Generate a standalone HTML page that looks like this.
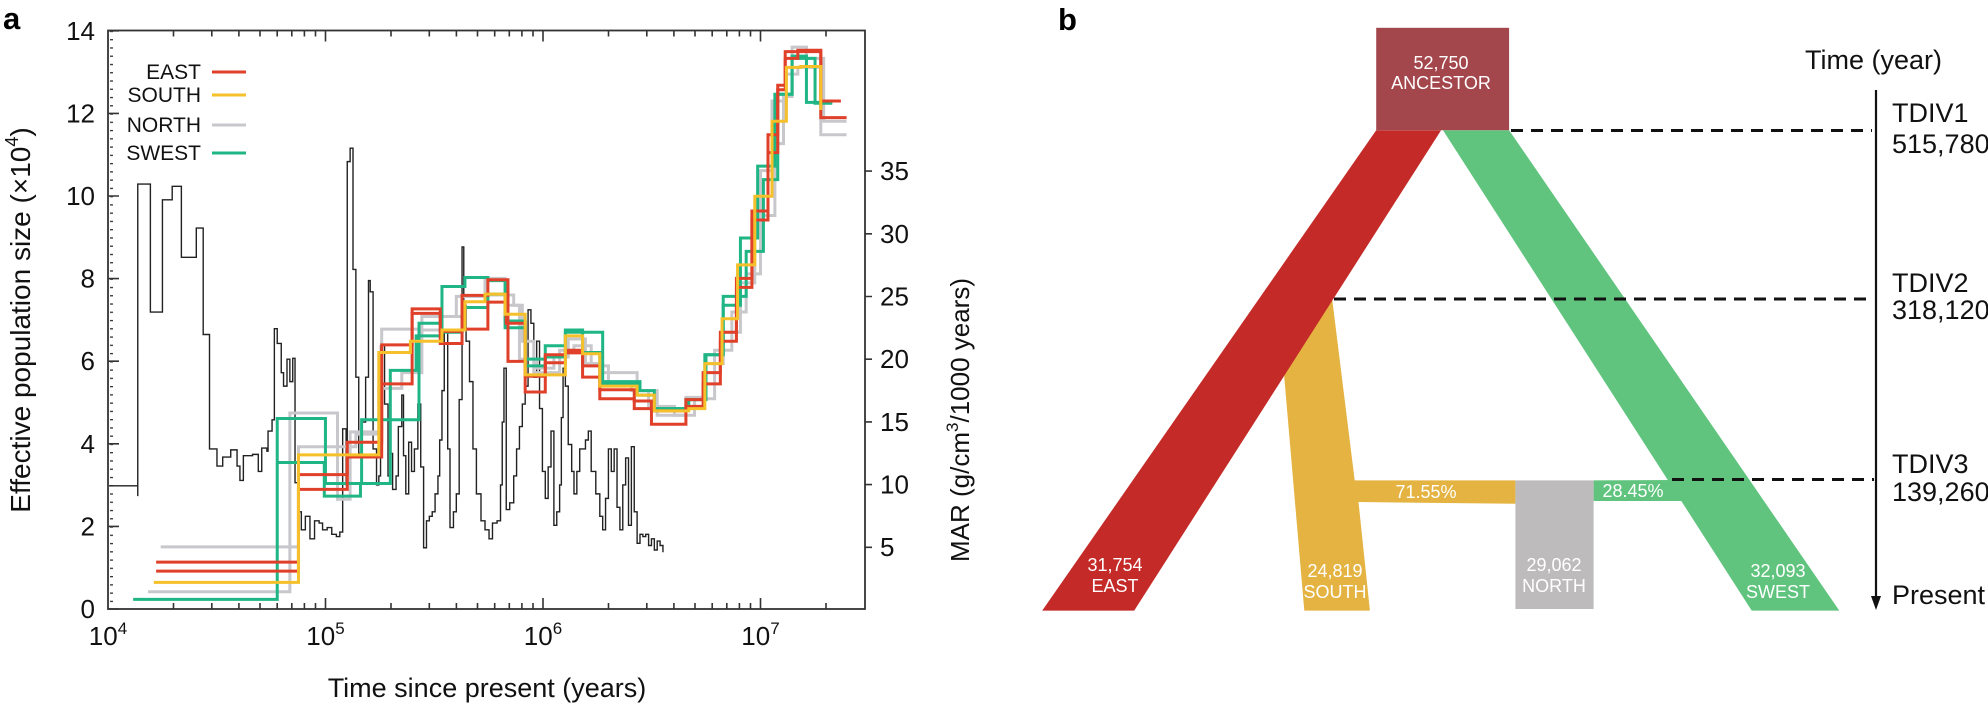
<!DOCTYPE html>
<html><head><meta charset="utf-8"><style>
html,body{margin:0;padding:0;background:#fff;}
svg{display:block;font-family:"Liberation Sans",sans-serif;}
</style></head><body>
<svg width="1988" height="704" viewBox="0 0 1988 704" xmlns="http://www.w3.org/2000/svg">
<defs>
<pattern id="lt" x="0" y="30.8" width="10" height="8.26" patternUnits="userSpaceOnUse">
<rect x="0" y="0" width="5" height="1.3" fill="#333"/>
</pattern>
</defs>
<!-- Panel a -->
<text x="3" y="29" font-size="31" font-weight="bold">a</text>
<rect x="108" y="30.5" width="757" height="578.5" fill="none" stroke="#333" stroke-width="1.8"/>
<rect x="108" y="30.8" width="5" height="578" fill="url(#lt)"/>
<g stroke="#333" stroke-width="1.6">
<path d="M108,609h11M108,526.4h11M108,443.8h11M108,361.2h11M108,278.6h11M108,196h11M108,113.4h11M108,30.8h11"/>
<path d="M865,547.3h7M865,484.6h7M865,421.9h7M865,359.2h7M865,296.5h7M865,233.8h7M865,171.1h7"/>
<path d="M325.5,609v-11M543,609v-11M760.5,609v-11M325.5,30.5v11M543,30.5v11M760.5,30.5v11"/>
<path d="M173.5,609v-6M211.8,609v-6M238.9,609v-6M260,609v-6M277.2,609v-6M291.8,609v-6M304.4,609v-6M315.5,609v-6M391,609v-6M429.3,609v-6M456.4,609v-6M477.5,609v-6M494.7,609v-6M509.3,609v-6M521.9,609v-6M533,609v-6M608.5,609v-6M646.8,609v-6M673.9,609v-6M695,609v-6M712.2,609v-6M726.8,609v-6M739.4,609v-6M750.5,609v-6M826,609v-6"/>
<path d="M173.5,30.5v6M211.8,30.5v6M238.9,30.5v6M260,30.5v6M277.2,30.5v6M291.8,30.5v6M304.4,30.5v6M315.5,30.5v6M391,30.5v6M429.3,30.5v6M456.4,30.5v6M477.5,30.5v6M494.7,30.5v6M509.3,30.5v6M521.9,30.5v6M533,30.5v6M608.5,30.5v6M646.8,30.5v6M673.9,30.5v6M695,30.5v6M712.2,30.5v6M726.8,30.5v6M739.4,30.5v6M750.5,30.5v6M826,30.5v6"/>
</g>
<g font-size="26" text-anchor="end" fill="#111">
<text x="95" y="618">0</text><text x="95" y="535.4">2</text><text x="95" y="452.8">4</text><text x="95" y="370.2">6</text><text x="95" y="287.6">8</text><text x="95" y="205">10</text><text x="95" y="122.4">12</text><text x="95" y="39.8">14</text>
</g>
<g font-size="26" fill="#111">
<text x="880" y="556">5</text><text x="880" y="493.6">10</text><text x="880" y="430.9">15</text><text x="880" y="368.2">20</text><text x="880" y="305.5">25</text><text x="880" y="242.8">30</text><text x="880" y="180.1">35</text>
</g>
<g font-size="26" fill="#111" text-anchor="middle">
<text x="108" y="645">10<tspan font-size="17" dy="-11">4</tspan></text>
<text x="325.5" y="645">10<tspan font-size="17" dy="-11">5</tspan></text>
<text x="543" y="645">10<tspan font-size="17" dy="-11">6</tspan></text>
<text x="760.5" y="645">10<tspan font-size="17" dy="-11">7</tspan></text>
<text x="487" y="697" font-size="27">Time since present (years)</text>
<text transform="translate(30,320) rotate(-90)" font-size="28">Effective population size (×10<tspan font-size="18" dy="-12">4</tspan><tspan dy="12">)</tspan></text>
<text transform="translate(969,420) rotate(-90)">MAR (g/cm<tspan font-size="17" dy="-11">3</tspan><tspan dy="11">/1000 years)</tspan></text>
</g>
<!-- legend -->
<g font-size="21" text-anchor="end" fill="#111">
<text x="201" y="79">EAST</text><text x="201" y="102">SOUTH</text><text x="201" y="132">NORTH</text><text x="201" y="160">SWEST</text>
</g>
<g stroke-width="3">
<line x1="212" y1="72" x2="246" y2="72" stroke="#e0402a"/>
<line x1="212" y1="95" x2="246" y2="95" stroke="#f5c02a"/>
<line x1="212" y1="125" x2="246" y2="125" stroke="#c8c8cc"/>
<line x1="212" y1="153" x2="246" y2="153" stroke="#1fb585"/>
</g>
<g transform="scale(0.57398,0.44898)" fill="none">
<path vector-effect="non-scaling-stroke" stroke="#222" stroke-width="1.4" d="M190,1082 H240 V1105 V410 H262 V695 H283 V445 H300 V415 H316 V573 H342 V508 H354 V745 H365 V1000 H378 V1038 H388 V1018 H402 V1002 H413 V1038 H418 V1070 H424 V1015 H440 V1012 H450 V1050 H456 V998 H465 V1005 H467 V960 H474 V935 H478 V732 H483 V765 H490 V830 H494 V860 H500 V800 H505 V850 H510 V798 H514 V1075 H520 V1140 H525 V1180 H532 V1150 H540 V1200 H548 V1160 H556 V1165 H562 V1180 H570 V1175 H578 V1190 H586 V1195 H592 V1185 H597 V955 H603 V1080 H605 V360 H610 V330 H615 V600 H620 V840 H625 V1010 H630 V940 H637 V840 H642 V625 H645 V650 H650 V1000 H656 V1080 H660 V1060 H663 V770 H670 V900 H676 V1060 H680 V1010 H684 V1090 H690 V1060 H694 V950 H700 V880 H703 V1015 H707 V1100 H712 V985 H717 V1050 H722 V1000 H728 V900 H733 V1040 H738 V1220 H743 V1160 H748 V1150 H753 V1140 H758 V1100 H763 V1060 H766 V980 H770 V870 H774 V740 H780 V1000 H784 V1175 H790 V1140 H795 V1100 H800 V890 H805 V550 H808 V680 H812 V760 H818 V850 H824 V1000 H830 V1100 H838 V1160 H845 V1180 H852 V1200 H858 V1165 H866 V1160 H872 V1080 H875 V940 H878 V820 H882 V1135 H888 V1120 H895 V1060 H900 V1000 H905 V950 H910 V900 H915 V860 H920 V690 H925 V720 H930 V840 H935 V760 H940 V910 H945 V1050 H950 V1110 H955 V1040 H960 V960 H965 V1170 H970 V1140 H975 V1080 H978 V930 H981 V820 H985 V860 H990 V990 H996 V1050 H1000 V1100 H1005 V1050 H1010 V1000 H1015 V1000 H1020 V980 H1025 V960 H1030 V1050 H1038 V1100 H1045 V1150 H1050 V1180 H1055 V1110 H1060 V1000 H1065 V1050 H1070 V1000 H1075 V1130 H1080 V1180 H1085 V1080 H1090 V1020 H1095 V1170 H1100 V995 H1105 V1140 H1110 V1210 H1115 V1190 H1120 V1195 H1125 V1190 H1130 V1215 H1135 V1200 H1140 V1225 H1145 V1205 H1150 V1215 H1155 V1230"/>
<g stroke-width="3">
<path vector-effect="non-scaling-stroke" stroke="#c8c8cc" d="M280,1218 H520 V995 H620 V967 H660 V865 H700 V830 H735 V735 H770 V705 H805 V660 H845 V620 H880 V680 H905 V800 H935 V820 H965 V795 H990 V755 H1020 V810 H1050 V830 H1110 V870 H1145 V925 H1195 V885 H1230 V810 H1260 V740 H1290 V630 H1315 V480 H1350 V320 H1365 V215 H1380 V105 H1405 V130 H1435 V270 H1475"/>
<path vector-effect="non-scaling-stroke" stroke="#c8c8cc" d="M258,1318 H505 V920 H588 V1112 H610 V962 H665 V733 H735 V705 H795 V660 H850 V657 H895 V680 H910 V760 H930 V830 H975 V780 H1000 V770 H1030 V815 H1060 V855 H1100 V870 H1130 V905 H1175 V925 H1210 V888 H1245 V780 H1275 V695 H1300 V610 H1325 V380 H1345 V225 H1370 V165 H1390 V150 H1430 V300 H1475"/>
<path vector-effect="non-scaling-stroke" stroke="#1fb585" d="M232,1335 H483 V932 H567 V1077 H630 V935 H680 V825 H725 V748 H770 V638 H810 V618 H850 V625 H880 V715 H915 V815 H950 V770 H985 V735 H1015 V785 H1045 V855 H1110 V880 H1140 V910 H1200 V890 H1228 V790 H1260 V680 H1290 V530 H1320 V370 H1350 V210 H1380 V125 H1405 V228 H1450"/>
<path vector-effect="non-scaling-stroke" stroke="#1fb585" d="M483,1030 H565 V1105 H628 V1077 H680 V935 H730 V720 H770 V740 H805 V685 H850 V655 H880 V730 H915 V800 H950 V795 H985 V740 H1050 V850 H1115 V870 H1140 V910 H1195 V890 H1230 V790 H1260 V660 H1300 V560 H1330 V400 H1355 V210 H1380 V130 H1420 V230 H1450"/>
<path vector-effect="non-scaling-stroke" stroke="#e0402a" d="M272,1252 H520 V1057 H605 V985 H665 V768 H718 V688 H767 V738 H805 V658 H850 V623 H885 V805 H915 V873 H950 V790 H985 V780 H1015 V840 H1045 V888 H1105 V910 H1135 V945 H1195 V905 H1225 V830 H1255 V740 H1283 V620 H1310 V470 H1338 V300 H1355 V190 H1368 V115 H1385 V115 H1430 V225 H1465"/>
<path vector-effect="non-scaling-stroke" stroke="#e0402a" d="M272,1272 H520 V1090 H605 V1018 H665 V855 H718 V698 H767 V765 H805 V733 H850 V673 H882 V720 H915 V838 H950 V808 H985 V786 H1015 V815 H1045 V868 H1105 V893 H1135 V915 H1195 V890 H1225 V855 H1255 V760 H1283 V640 H1310 V490 H1338 V340 H1355 V200 H1368 V130 H1390 V112 H1430 V262 H1475"/>
<path vector-effect="non-scaling-stroke" stroke="#f5c02a" d="M268,1297 H520 V1013 H660 V785 H715 V760 H770 V735 H810 V672 H845 V655 H880 V700 H915 V835 H985 V748 H1015 V788 H1045 V860 H1110 V880 H1140 V915 H1200 V910 H1228 V810 H1258 V710 H1285 V590 H1315 V437 H1345 V270 H1370 V150 H1395 V148 H1430 V245"/>
</g>
</g>
<!-- Panel b -->
<text x="1058" y="30" font-size="31" font-weight="bold">b</text>
<polygon points="1332.1,298.6 1354.7,480.4 1515.4,480.4 1515.4,503.8 1358.5,502 1369.9,610.6 1304.3,610.6 1283.5,368.2" fill="#e4b341"/>
<polygon points="1376.2,130.2 1441.1,130.2 1134.2,610.6 1042.2,610.6" fill="#c42a27"/>
<polygon points="1593.6,480.4 1675,480 1686,501 1593.6,501" fill="#60c47e"/>
<polygon points="1443,130.2 1509.1,130.2 1839.3,610.6 1751.7,610.6" fill="#60c47e"/>
<rect x="1515.4" y="480.4" width="78.2" height="128.6" fill="#bebbbc"/>
<rect x="1376.2" y="27.8" width="132.9" height="102.4" fill="#a4474d"/>
<g stroke="#111" stroke-width="3" stroke-dasharray="12,8">
<line x1="1511" y1="130.5" x2="1872" y2="130.5"/>
<line x1="1334" y1="299" x2="1872" y2="299"/>
<line x1="1672" y1="479.5" x2="1874" y2="479.5"/>
</g>
<line x1="1876" y1="90" x2="1876" y2="598" stroke="#111" stroke-width="2.2"/>
<polygon points="1871,596 1881,596 1876,610" fill="#111"/>
<g fill="#fff" font-size="18" text-anchor="middle" dominant-baseline="middle">
<text x="1441" y="64">52,750</text><text x="1441" y="84">ANCESTOR</text>
<text x="1115" y="566">31,754</text><text x="1115" y="587">EAST</text>
<text x="1335" y="572">24,819</text><text x="1335" y="593">SOUTH</text>
<text x="1554" y="566">29,062</text><text x="1554" y="587">NORTH</text>
<text x="1778" y="572">32,093</text><text x="1778" y="593">SWEST</text>
<text x="1426" y="493">71.55%</text><text x="1633" y="492">28.45%</text>
</g>
<g fill="#111" font-size="27" dominant-baseline="middle">
<text x="1805" y="62">Time (year)</text>
<text x="1892" y="115">TDIV1</text><text x="1892" y="146">515,780</text>
<text x="1892" y="285">TDIV2</text><text x="1892" y="312">318,120</text>
<text x="1892" y="466">TDIV3</text><text x="1892" y="494">139,260</text>
<text x="1892" y="597">Present</text>
</g>
</svg>
</body></html>
